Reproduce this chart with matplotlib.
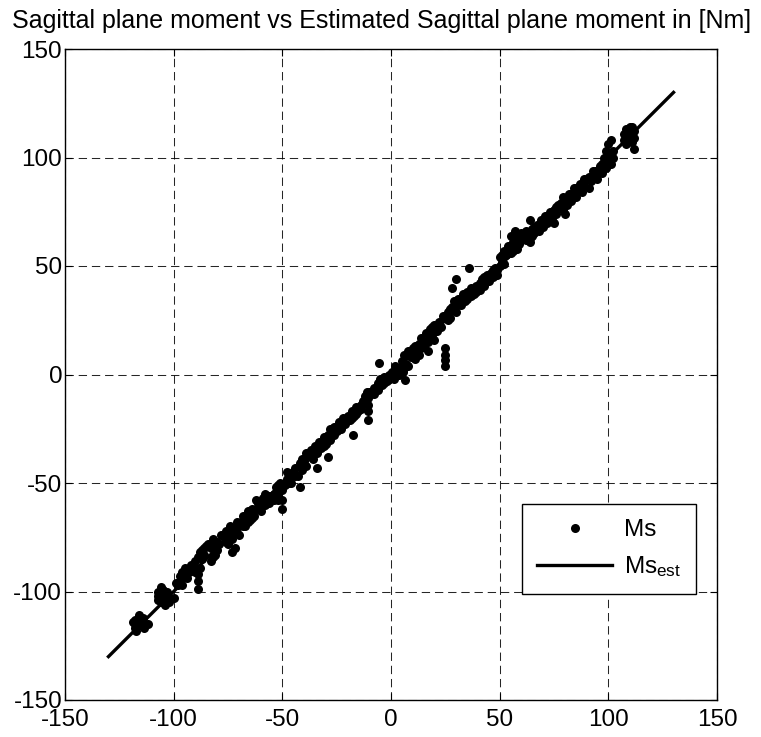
import matplotlib
matplotlib.use("Agg")
import matplotlib.pyplot as plt

plt.rcParams['font.family'] = ['Liberation Sans', 'DejaVu Sans']
plt.rcParams['mathtext.fontset'] = 'custom'
plt.rcParams['mathtext.rm'] = 'Liberation Sans'
plt.rcParams['mathtext.it'] = 'Liberation Sans'
plt.rcParams['lines.scale_dashes'] = False

ms_x = [-118, -118, -118, -117.5, -118.5, -117,
        -114, -114, -114, -113.5, -115,
        -107, -107, -107, -105, -105, -105, -105, -103, -103, -103, -104, -106,
        -97, -97, -96, -95, -95, -94, -94, -93, -98,
        -89, -89, -89,
        -91, -90, -89, -88, -87, -86, -86, -88,
        -84, -83, -82, -81, -80, -80, -82,
        -77, -76, -75, -74, -74, -73, -72, -71, -72, -70, -76, -73,
        -69, -68, -67, -66, -65, -64, -63,
        -62, -61, -60, -59, -58, -57, -56, -55, -54,
        -53, -52, -51, -50, -50, -50, -49, -48, -47, -46, -52,
        -42,
        -45, -44, -43, -42, -41, -40, -39,
        -38, -37, -36, -35, -34, -34, -33, -32, -31, -30, -29, -29, -28,
        -27, -26, -25, -24, -23, -22, -21, -20, -19, -18, -17.5, -17, -16, -15, -14,
        -10.5, -10.5, -10.5, -10.5,
        -13, -12, -11, -9, -8, -7, -6, -5, -4, -3, -2, -1, 0, -5.5,
        0.5, 1.5, 2.5, 3.5, 4.5, 5.5, 6.5,
        5, 6, 7, 8, 9, 10, 11, 12, 13, 8,
        13, 14, 15, 16, 17, 18, 19, 20, 21, 22, 17, 20,
        25, 25, 25, 25,
        24, 26, 27, 28, 29, 30, 31, 32, 33, 34, 35, 36, 37, 38, 39, 40,
        30, 36, 28,
        41, 42, 43, 44, 45, 46, 47, 48, 49, 50,
        50, 51, 52, 53, 54, 55, 56, 57, 58, 59, 60, 55, 57,
        64,
        62, 63, 64, 65, 66, 67, 68, 69, 70, 71, 72, 73, 74, 75, 76, 77, 75, 78, 64,
        79, 80, 81, 82, 83, 84, 85, 86, 87, 88, 89, 90, 91, 92, 79, 80,
        93, 94, 95, 96, 97, 98, 99, 100, 101, 102, 100, 101, 99,
        107, 107, 108, 109, 110, 111, 112, 112, 112, 111, 108,
        -116, -112, -106, -102, -100, -99, -96, -92, -90, -87, -85, -83, -81,
        -79, -78, -75, -71, -70, -68, -66, -64, -62, -60, -58, -56, -54, -52,
        -48, -46, -44, -41, -39, -37, -35, -33, -31, -28, -26, -24, -22, -20,
        -18, -16, -14, -12, -10, -8, -6, -3, -1, 2, 4, 6, 9, 11, 14, 16, 18,
        19, 21, 23, 26, 27, 29, 31, 33, 35, 37, 39, 41, 43, 45, 47, 49, 51,
        52, 54, 56, 58, 59, 61, 62, 65, 66, 68, 70, 72, 74, 76, 78, 81, 83,
        85, 87, 89, 91, 93, 95, 97, 98, 100, 102, 110, 109]
ms_y = [-113, -115, -117, -118, -114, -116,
        -112, -114, -116, -117, -113,
        -100, -102, -104, -99.5, -101, -103, -105, -100, -102, -104, -106, -105,
        -95, -93, -91, -89, -92, -90, -94, -91, -97,
        -92, -95, -99,
        -88, -86, -84, -82, -85, -80, -83, -89,
        -78, -80, -76, -79, -81, -77, -84,
        -75, -72, -78, -70, -74, -76, -71, -73, -80, -70, -77, -82,
        -68, -65, -70, -63, -67, -62, -65,
        -62, -59, -63, -57, -60, -56, -59, -57, -55,
        -52, -55, -50, -53, -58, -62, -51, -48, -50, -47, -58,
        -52,
        -45, -43, -47, -41, -44, -40, -42,
        -37, -35, -39, -33, -36, -43, -31, -34, -29, -32, -38, -28, -30,
        -27, -24, -26, -22, -25, -20, -23, -19, -21, -17, -28, -19, -15, -17, -14,
        -11, -14, -17, -21,
        -12, -10, -8, -9, -6, -7, -4, -2, -5, -1, -3, 0, -1, 5.5,
        1, -2, 2, 0, 3, 1, -2.5,
        6, 9, 5, 11, 8, 12, 7, 10, 9, 4,
        14, 17, 13, 19, 15, 21, 18, 23, 20, 24, 11, 16,
        4, 6.5, 9, 12,
        27, 29, 26, 31, 34, 29, 35, 32, 37, 34, 38, 36, 40, 37, 41, 39,
        44, 49, 40,
        42, 44, 41, 46, 43, 47, 45, 49, 46, 50,
        54, 52, 57, 55, 59, 56, 61, 58, 63, 60, 65, 64, 66,
        71,
        62, 65, 63, 67, 65, 69, 66, 71, 68, 73, 70, 75, 72, 76, 74, 78, 70, 77, 61,
        76, 80, 78, 83, 80, 86, 82, 85, 88, 84, 87, 90, 86, 89, 82, 74,
        91, 94, 90, 96, 93, 98, 95, 101, 97, 100, 106, 108, 103,
        108, 111, 113, 110, 114, 107, 112, 104, 109, 114, 106,
        -111, -115, -98, -105, -103, -96, -97, -88, -91, -81, -79, -86, -83,
        -78, -74, -73, -68, -74, -70, -68, -66, -58, -60, -55, -56, -58, -51,
        -45, -50, -47, -39, -36, -38, -36, -34, -33, -25, -28, -25, -23, -21,
        -20, -18, -16, -13, -8, -9, -7, -4, -2, 4, 1, 3, 11, 13, 12, 15, 17,
        22, 22, 22, 25, 30, 31, 32, 34, 35, 36, 38, 39, 45, 46, 48, 48, 55,
        51, 56, 57, 58, 62, 63, 66, 64, 68, 69, 71, 73, 75, 77, 79, 81, 83,
        86, 86, 90, 91, 94, 93, 97, 100, 99, 103, 111, 107]

# Estimated line (Ms_est)
est_x = [-130, 130]
est_y = [-130, 130]

ticks = [-150, -100, -50, 0, 50, 100, 150]

fig = plt.figure(figsize=(7.61, 7.37), dpi=100)
ax = fig.add_axes([65 / 761, 1 - 700 / 737, 652 / 761, 651 / 737])

ax.plot(ms_x, ms_y, linestyle='none', marker='o', markersize=6.5,
        color='black', markeredgewidth=0, label='Ms', zorder=3)
ax.plot(est_x, est_y, color='black', linewidth=2.4, label='Ms$_{est}$', zorder=4)

ax.set_xlim(-150, 150)
ax.set_ylim(-150, 150)
ax.set_xticks(ticks)
ax.set_yticks(ticks)
ax.set_xticklabels([str(t) for t in ticks])
ax.set_yticklabels([str(t) for t in ticks])
ax.tick_params(direction='in', top=True, right=True, length=5, width=0.8,
               labelsize=17.5, pad=2)
ax.tick_params(axis='x', pad=6.5)
ax.grid(True, color='black', linestyle=(0, (6, 3.5)), linewidth=0.75, alpha=0.85)
for s in ax.spines.values():
    s.set_linewidth(1.0)
    s.set_color('black')

ax.set_title('Sagittal plane moment vs Estimated Sagittal plane moment in [Nm]',
             fontsize=18, pad=15, x=0.485)

leg = ax.legend(loc='lower right', bbox_to_anchor=(0.968, 0.163),
                borderaxespad=0, fontsize=17.5, frameon=True, fancybox=False,
                edgecolor='black', framealpha=1, handlelength=3.1,
                handletextpad=0.5, borderpad=0.6, labelspacing=0.55,
                numpoints=1)
leg.get_frame().set_linewidth(1.0)

fig.savefig('out.png', dpi=100)
